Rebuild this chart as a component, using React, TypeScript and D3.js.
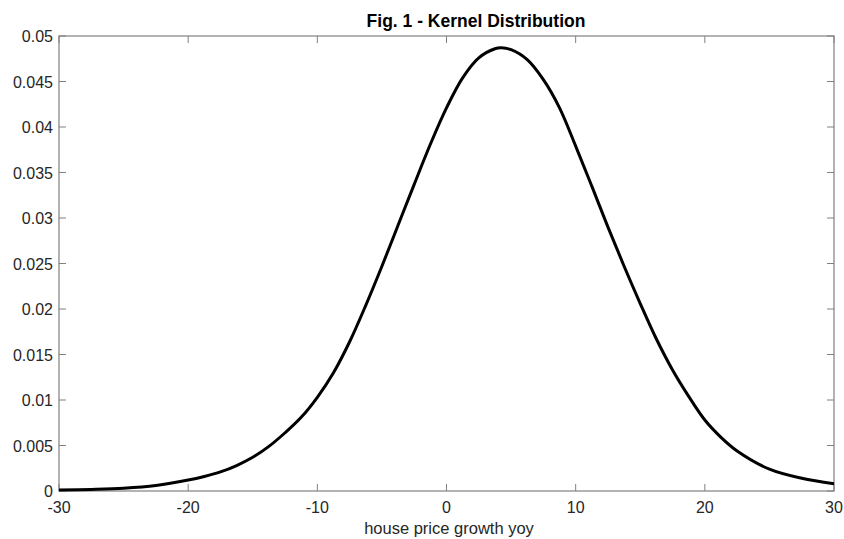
import React, { useRef, useEffect } from 'react';
import * as d3 from 'd3';

// readings
const growth = [
  -30, -27.5, -25, -22.5, -20, -18.75, -17.5, -16.25, -15, -13.75, -12.5, -11.25, -10, -8.75,
  -7.5, -6.25, -5, -3.75, -2.5, -1.25, 0, 1.25, 2.5, 3.75, 4.25, 5, 6.25, 7.5, 8.75, 10,
  11.25, 12.5, 13.75, 15, 16.25, 17.5, 18.75, 20, 21.25, 22.5, 25, 27.5, 30
];
const density = [
  0.0001, 0.00017, 0.0003, 0.0006, 0.0012, 0.0016, 0.0021, 0.0028, 0.0037, 0.0049, 0.0064,
  0.0081, 0.0103, 0.013, 0.0164, 0.0204, 0.0247, 0.0292, 0.0337, 0.0381, 0.0421, 0.0454,
  0.0476, 0.0486, 0.0487, 0.0485, 0.0474, 0.0452, 0.0421, 0.0379, 0.0335, 0.029, 0.0247,
  0.0206, 0.0167, 0.0133, 0.0104, 0.0078, 0.0059, 0.0044, 0.0024, 0.0014, 0.0008
];
const xTicks = [-30, -20, -10, 0, 10, 20, 30];
const yTicks = [0, 0.005, 0.01, 0.015, 0.02, 0.025, 0.03, 0.035, 0.04, 0.045, 0.05];

const title = 'Fig. 1 - Kernel Distribution';
const xLabel = 'house price growth yoy';

interface Point {
  x: number;
  y: number;
}

const KernelChart: React.FC = () => {
  const svgRef = useRef<SVGSVGElement>(null);

  useEffect(() => {
    if (!svgRef.current) return;
    document.body.style.margin = '0';

    const width = 844;
    const height = 539;
    const margin = { top: 36, right: 10, bottom: 48, left: 59 };
    const innerWidth = width - margin.left - margin.right;
    const innerHeight = height - margin.top - margin.bottom;

    const svg = d3.select(svgRef.current);
    svg.selectAll('*').remove();
    svg.attr('width', width).attr('height', height);

    const data: Point[] = growth.map((g, i) => ({ x: g, y: density[i] }));

    const xScale = d3.scaleLinear().domain([-30, 30]).range([0, innerWidth]);
    const yScale = d3.scaleLinear().domain([0, 0.05]).range([innerHeight, 0]);

    const g = svg.append('g').attr('transform', `translate(${margin.left},${margin.top})`);

    const font = '"Liberation Sans", Arial, sans-serif';
    const axisColor = '#808080';
    const textColor = '#262626';

    // Box
    g.append('rect')
      .attr('x', 0)
      .attr('y', 0)
      .attr('width', innerWidth)
      .attr('height', innerHeight)
      .attr('fill', 'white')
      .attr('stroke', axisColor)
      .attr('stroke-width', 1.2);

    // Ticks (inward, on all four sides)
    const tickLen = 7;
    xTicks.forEach(t => {
      const x = xScale(t);
      g.append('line').attr('x1', x).attr('x2', x).attr('y1', innerHeight).attr('y2', innerHeight - tickLen)
        .attr('stroke', axisColor);
      g.append('line').attr('x1', x).attr('x2', x).attr('y1', 0).attr('y2', tickLen)
        .attr('stroke', axisColor);
      g.append('text')
        .attr('x', x)
        .attr('y', innerHeight + 22)
        .attr('text-anchor', 'middle')
        .attr('fill', textColor)
        .style('font-family', font)
        .style('font-size', '16px')
        .text(String(t));
    });

    yTicks.forEach(t => {
      const y = yScale(t);
      g.append('line').attr('x1', 0).attr('x2', tickLen).attr('y1', y).attr('y2', y)
        .attr('stroke', axisColor);
      g.append('line').attr('x1', innerWidth).attr('x2', innerWidth - tickLen).attr('y1', y).attr('y2', y)
        .attr('stroke', axisColor);
      g.append('text')
        .attr('x', -6)
        .attr('y', y + 6)
        .attr('text-anchor', 'end')
        .attr('fill', textColor)
        .style('font-family', font)
        .style('font-size', '16px')
        .text(String(t));
    });

    // Density line
    const line = d3.line<Point>()
      .x(d => xScale(d.x))
      .y(d => yScale(d.y))
      .curve(d3.curveCatmullRom.alpha(0.5));

    g.append('path')
      .datum(data)
      .attr('fill', 'none')
      .attr('stroke', '#000')
      .attr('stroke-width', 3)
      .attr('stroke-linejoin', 'round')
      .attr('d', line);

    // Title and label
    svg.append('text')
      .attr('x', 476)
      .attr('y', 27)
      .attr('text-anchor', 'middle')
      .attr('fill', '#000')
      .style('font-family', font)
      .style('font-weight', 'bold')
      .style('font-size', '17.5px')
      .text(title);

    svg.append('text')
      .attr('x', 449)
      .attr('y', height - 5)
      .attr('text-anchor', 'middle')
      .attr('fill', textColor)
      .style('font-family', font)
      .style('font-size', '16.5px')
      .text(xLabel);
  }, []);

  return <svg ref={svgRef} style={{ display: 'block' }}></svg>;
};

export default function App() {
  return <KernelChart />;
}
